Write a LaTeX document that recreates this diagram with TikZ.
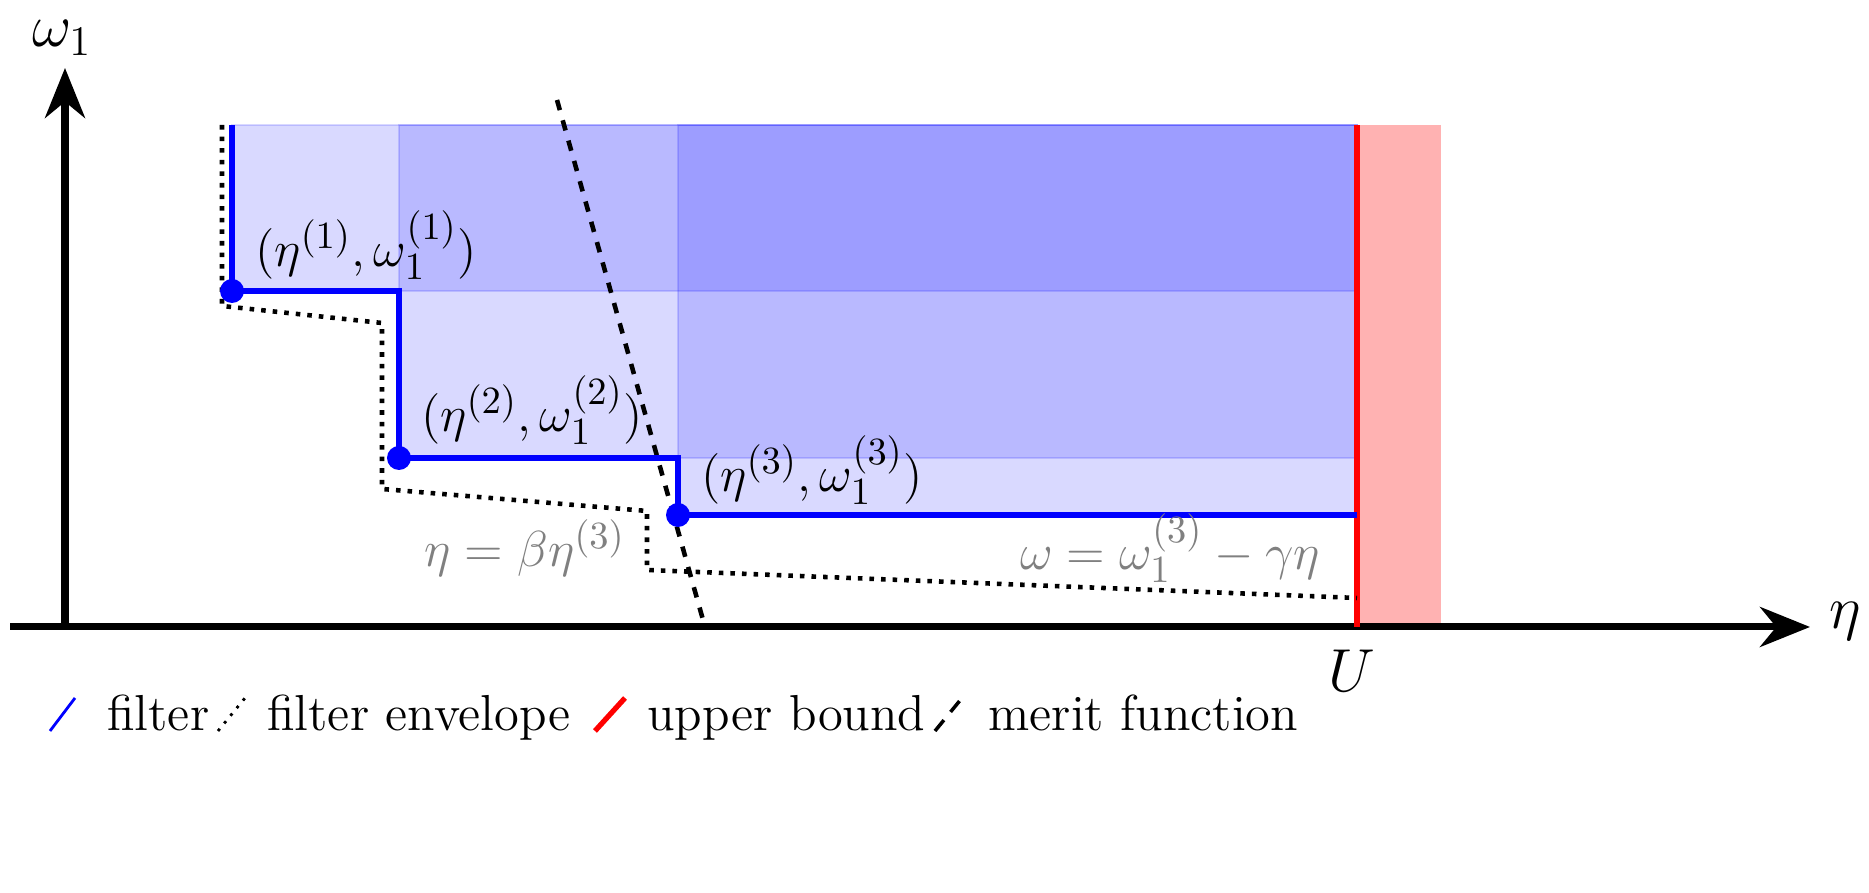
\documentclass[tikz,border=0pt]{standalone}
\usetikzlibrary{arrows.meta}
\tikzset{
  region/.style={fill=blue, fill opacity=0.15, draw=blue, draw opacity=0.15},
  filterline/.style={blue, line width=1.5pt},
  envelope/.style={dotted, line width=1.3pt},
  merit/.style={dashed, line width=1.3pt},
  axis/.style={line width=2pt, -{Stealth[length=5mm,width=4mm]}},
  ptlabel/.style={font=\fontsize{15.5}{18}\selectfont},
  glabel/.style={gray, font=\fontsize{15.5}{18}\selectfont},
}
\begin{document}
\begin{tikzpicture}
    \useasboundingbox (0,0) rectangle (18.69,8.93);
    \coordinate (o) at (0.65,2.66);
    \coordinate (p1) at (2.32,6.02); %first
    \coordinate (p2) at (3.99,4.35); %second
    \coordinate (p3) at (6.78,3.78); %third

    \fill[red, opacity=0.3] (13.57,2.66) rectangle (14.41,7.68);
    \path[region] (p1) rectangle (13.57,7.68);
    \path[region] (p2) rectangle (13.57,7.68);
    \path[region] (p3) rectangle (13.57,7.68);

    \draw[axis] (0.1,2.66) -- (18.1,2.66);
    \draw[axis] (o) -- (0.65,8.25);
    \node (etaax) at (18.45,2.72) {\LARGE $\eta$};
    \node (omax) at (0.62,8.55) {\LARGE $\omega_1$};

    \draw[red, line width=1.5pt] (13.57,2.66) -- (13.57,7.68);
    \node (U) at (13.52,2.22) {\LARGE $U$};

\draw[envelope] (2.22,7.68) -- (2.22,5.87) -- (3.82,5.70) -- (3.82,4.04) -- (6.47,3.82) -- (6.47,3.23) -- (13.57,2.95);
\draw[merit] (5.57,7.93) -- (7.05,2.66);
\draw[filterline] (2.32,7.68) -- (p1) -- (3.99,6.02) -- (p2) -- (6.78,4.35) -- (p3) -- (13.57,3.78);

    \foreach \p in {p1,p2,p3}
        \fill[blue] (\p) circle (0.12);

    \node[ptlabel] (l1) at (3.66,6.48) {$(\eta^{(1)},\omega_1^{(1)})$};
    \node[ptlabel] (l2) at (5.32,4.83) {$(\eta^{(2)},\omega_1^{(2)})$};
    \node[ptlabel] (l3) at (8.12,4.23) {$(\eta^{(3)},\omega_1^{(3)})$};
    \node[glabel] (beta) at (5.25,3.45) {$\eta=\beta\eta^{(3)}$};
    \node[glabel] (gamma) at (11.7,3.45) {$\omega=\omega_1^{(3)}-\gamma\eta$};

    % legend
    \draw[blue, line width=0.8pt] (0.5,1.62) -- (0.75,1.95);
    \node[anchor=base west, font=\Large] (lf) at (0.95,1.62) {filter};
    \draw[envelope, line width=0.8pt] (2.18,1.62) -- (2.45,1.95);
    \node[anchor=base west, font=\Large] (le) at (2.55,1.62) {filter envelope};
    \draw[red, line width=1.5pt] (5.95,1.62) -- (6.25,1.95);
    \node[anchor=base west, font=\Large] (lu) at (6.35,1.62) {upper bound};
    \draw[dashed, line width=1pt, dash pattern=on 4pt off 3pt] (9.35,1.62) -- (9.62,1.95);
    \node[anchor=base west, font=\Large] (lm) at (9.76,1.62) {merit function};
\end{tikzpicture}
\end{document}
